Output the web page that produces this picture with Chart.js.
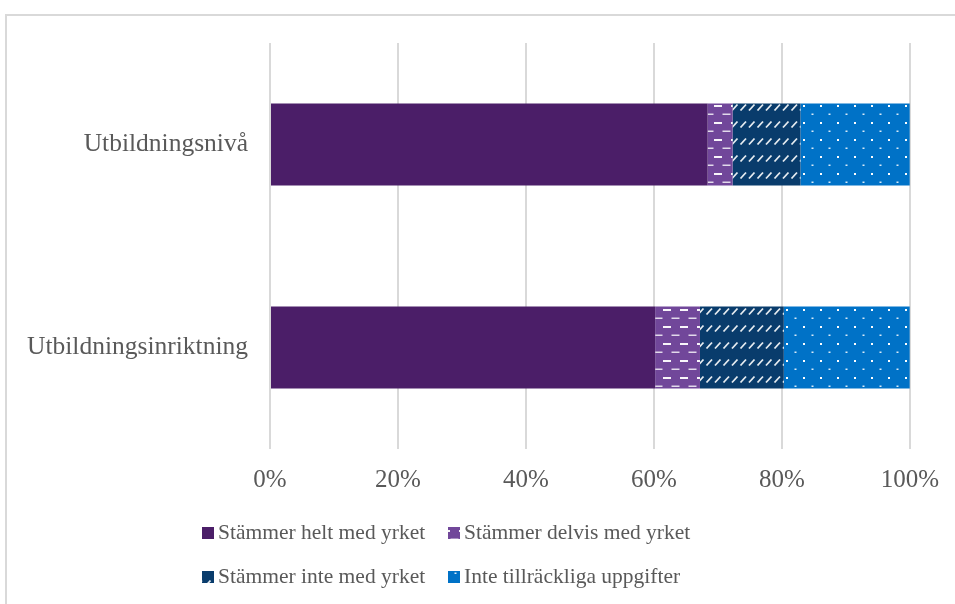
<!DOCTYPE html>
<html>
<head>
<meta charset="utf-8">
<script src="https://cdn.jsdelivr.net/npm/chart.js@4"></script>
<style>
  html, body { margin: 0; padding: 0; background: #fff; }
  #wrap { position: relative; width: 955px; height: 604px; overflow: hidden; }
  #frame {
    position: absolute; left: 5px; top: 14px; width: 1000px; height: 700px;
    border-top: 2px solid #d9d9d9; border-left: 2px solid #d9d9d9; box-sizing: border-box;
  }
  #chart { position: absolute; left: 0; top: 0; }
</style>
</head>
<body>
<div id="wrap">
  <div id="frame"></div>
  <canvas id="chart" width="955" height="604"></canvas>
</div>
<script>
const categories = ["Utbildningsnivå", "Utbildningsinriktning"];
const seriesLabels = [
  "Stämmer helt med yrket",
  "Stämmer delvis med yrket",
  "Stämmer inte med yrket",
  "Inte tillräckliga uppgifter",
];
const heltValues = [68.4, 60.2];
const delvisValues = [3.9, 7.0];
const inteValues = [10.6, 13.1];
const uppgifterValues = [17.1, 19.7];
const tickLabels = ["0%", "20%", "40%", "60%", "80%", "100%"];

const TEXT_COLOR = "#595959";
const GRID_COLOR = "#d9d9d9";

function makeTile(bg, drawMarks) {
  const tile = document.createElement("canvas");
  tile.width = 17;
  tile.height = 17;
  const tctx = tile.getContext("2d");
  tctx.fillStyle = bg;
  tctx.fillRect(0, 0, 17, 17);
  drawMarks(tctx);
  return document.getElementById("chart").getContext("2d").createPattern(tile, "repeat");
}

// dashed horizontal
const delvisPattern = makeTile("#71479a", (c) => {
  c.fillStyle = "rgba(255,255,255,0.95)";
  c.fillRect(0, 3, 8, 2);
  c.fillStyle = "rgba(255,255,255,0.8)";
  c.fillRect(8.5, 11.5, 8, 1.5);
});

// dashed upward diagonal
const intePattern = makeTile("#093c6c", (c) => {
  c.strokeStyle = "rgba(255,255,255,0.9)";
  c.lineWidth = 1.8;
  [1, 9.5].forEach((x) => {
    c.beginPath();
    c.moveTo(x, 8.5);
    c.lineTo(x + 5.5, 2.5);
    c.stroke();
  });
});

// dotted
const uppgifterPattern = makeTile("#0072c7", (c) => {
  c.fillStyle = "#ffffff";
  c.fillRect(4, 3, 2, 2);
  c.fillStyle = "rgba(255,255,255,0.85)";
  c.fillRect(12.5, 11.5, 2, 1.5);
});

const seriesFills = ["#4b1e68", delvisPattern, intePattern, uppgifterPattern];
const seriesValues = [heltValues, delvisValues, inteValues, uppgifterValues];

const legendPlugin = {
  id: "fixedLegend",
  afterDraw(chart) {
    const ctx = chart.ctx;
    const columns = [202, 448];
    const rows = [533, 577];
    ctx.save();
    ctx.font = "21.5px 'Liberation Serif', serif";
    ctx.textBaseline = "middle";
    chart.data.datasets.forEach((dataset, i) => {
      const x = columns[i % 2];
      const y = rows[Math.floor(i / 2)];
      ctx.fillStyle = dataset.backgroundColor;
      ctx.fillRect(x, y - 6, 12, 12);
      ctx.fillStyle = TEXT_COLOR;
      ctx.fillText(dataset.label, x + 16, y);
    });
    ctx.restore();
  },
};

new Chart(document.getElementById("chart").getContext("2d"), {
  type: "bar",
  data: {
    labels: categories,
    datasets: seriesLabels.map((label, i) => ({
      label,
      data: seriesValues[i],
      backgroundColor: seriesFills[i],
      borderWidth: 0,
      barPercentage: 0.404,
      categoryPercentage: 1,
    })),
  },
  options: {
    indexAxis: "y",
    responsive: false,
    animation: false,
    layout: { padding: { top: 43, right: 45, bottom: 0, left: 0 } },
    plugins: {
      legend: { display: false },
      tooltip: { enabled: false },
    },
    scales: {
      x: {
        stacked: true,
        min: 0,
        max: 100,
        afterFit: (scale) => { scale.height = 155; },
        grid: { color: GRID_COLOR, lineWidth: 2, drawTicks: false },
        border: { display: false },
        ticks: {
          stepSize: 20,
          padding: 16,
          color: TEXT_COLOR,
          font: { family: "'Liberation Serif', serif", size: 25 },
          callback: (value, index) => tickLabels[index],
        },
      },
      y: {
        stacked: true,
        afterFit: (scale) => { scale.width = 270; },
        grid: { display: false, drawTicks: false },
        border: { display: false },
        ticks: {
          padding: 22,
          color: TEXT_COLOR,
          font: { family: "'Liberation Serif', serif", size: 25.5 },
        },
      },
    },
  },
  plugins: [legendPlugin],
});
</script>
</body>
</html>
